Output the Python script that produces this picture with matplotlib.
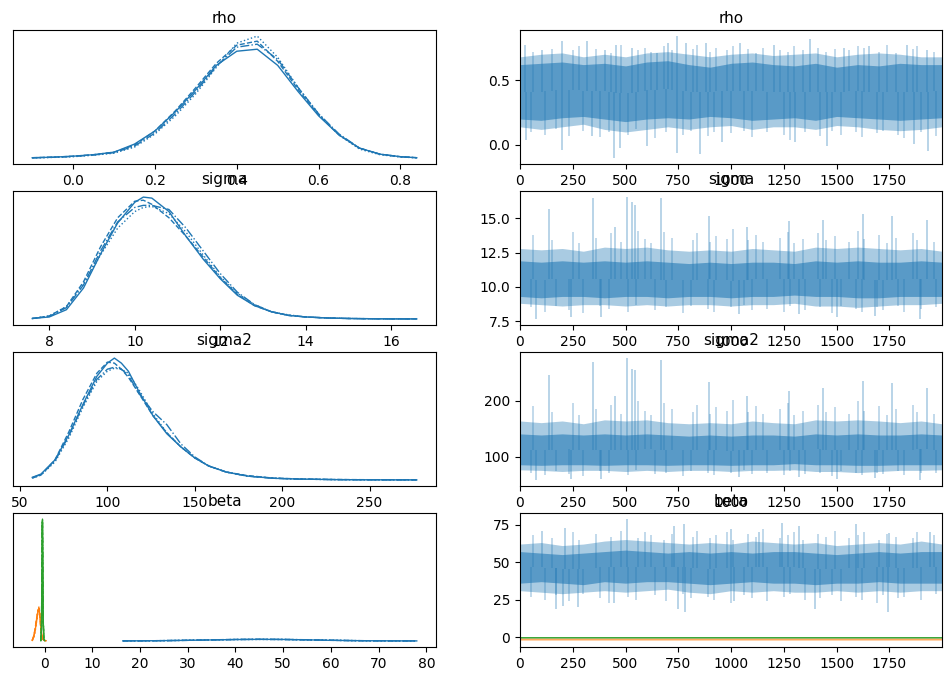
import matplotlib
matplotlib.use("Agg")
import matplotlib.pyplot as plt
import numpy as np

# ---------------- data ----------------
var_names = ["rho", "sigma", "sigma2", "beta"]
chain_styles = ["-", "--", ":", "-."]

# KDE curves (density in arbitrary units, 4 chains each)
rho_x = [-0.10, -0.05, 0.00, 0.05, 0.10, 0.15, 0.20, 0.25, 0.30, 0.35, 0.40, 0.45,
         0.50, 0.55, 0.60, 0.65, 0.70, 0.75, 0.80, 0.84]
rho_kde = [
    [0.5, 1, 2, 3.5, 6, 14, 27, 46, 68, 92, 106, 108, 92, 66, 42, 23, 10, 4, 1.5, 0.5],
    [0.5, 1, 2, 3.5, 6, 13, 27, 47, 70, 94, 112, 116, 96, 68, 43, 23, 10, 4, 1.5, 0.5],
    [0.3, 0.8, 1.5, 3, 5, 11, 24, 42, 64, 90, 114, 121, 100, 70, 44, 23, 9, 3.5, 1.2, 0.4],
    [0.4, 0.9, 1.8, 3.2, 5.5, 12, 25, 44, 66, 91, 110, 113, 98, 70, 44, 24, 10, 4, 1.4, 0.5],
]
sigma_x = [7.6, 8.0, 8.4, 8.8, 9.2, 9.6, 10.0, 10.2, 10.4, 10.8, 11.2, 11.6, 12.0, 12.4,
           12.8, 13.2, 13.6, 14.0, 14.5, 15.0, 15.5, 16.0, 16.6]
sigma_kde = [
    [0.5, 2, 9, 30, 63, 93, 113, 118, 117, 104, 80, 58, 39, 23, 13, 7, 3.5, 2, 1, 0.5, 0.3, 0.1, 0.1],
    [0.5, 3, 12, 36, 70, 98, 114, 115, 111, 98, 80, 60, 40, 24, 13, 7, 3.5, 2, 1, 0.5, 0.3, 0.2, 0.1],
    [0.5, 3, 12, 34, 62, 88, 104, 108, 109, 102, 84, 62, 41, 25, 14, 7, 4, 2, 1, 0.6, 0.3, 0.2, 0.1],
    [0.5, 2.5, 11, 33, 66, 94, 108, 110, 110, 106, 88, 66, 44, 26, 14, 7, 3.5, 2, 1, 0.5, 0.2, 0.1, 0.1],
]
sigma2_x = [57, 62, 70, 78, 86, 94, 100, 104, 108, 112, 118, 126, 134, 142, 150, 158, 168,
            180, 195, 210, 230, 250, 277]
sigma2_kde = [
    [2.7, 6, 20, 45, 75, 103, 116, 121, 116, 108, 88, 64, 46, 33, 22, 14, 8, 4, 1.8, 1, 0.5, 0.3, 0.2],
    [2, 5, 20, 48, 80, 106, 117, 116, 110, 102, 86, 64, 47, 33, 22, 14, 8, 4.5, 2, 1.2, 0.6, 0.4, 0.3],
    [2, 5, 18, 42, 72, 98, 108, 111, 110, 106, 90, 66, 47, 33, 22, 14, 8, 4, 2, 1, 0.5, 0.3, 0.2],
    [2.5, 5.5, 19, 44, 74, 100, 110, 112, 110, 104, 86, 68, 55, 36, 23, 14, 8, 4, 1.8, 1, 0.5, 0.3, 0.2],
]
beta0_x = [16.4, 20, 25, 30, 35, 40, 45, 50, 55, 60, 65, 70, 75, 78]
beta0_kde = [
    [0.05, 0.1, 0.3, 0.6, 1.0, 1.4, 1.6, 1.5, 1.1, 0.6, 0.3, 0.12, 0.04, 0.02],
    [0.05, 0.1, 0.3, 0.6, 1.1, 1.5, 1.6, 1.4, 1.0, 0.6, 0.3, 0.12, 0.04, 0.02],
    [0.05, 0.1, 0.3, 0.7, 1.1, 1.4, 1.5, 1.5, 1.1, 0.7, 0.3, 0.12, 0.04, 0.02],
    [0.05, 0.1, 0.3, 0.6, 1.0, 1.4, 1.6, 1.5, 1.2, 0.7, 0.3, 0.12, 0.04, 0.02],
]
beta1_x = [-2.6, -2.3, -2.0, -1.7, -1.4, -1.2, -1.0, -0.8, -0.6, -0.4, -0.2, 0.0, 0.3]
beta1_kde = [
    [0.5, 4, 10, 20, 30, 33, 26, 14, 6, 2, 1, 0.5, 0.2],
    [0.6, 5, 12, 22, 31, 32, 24, 12, 5, 2, 1, 0.4, 0.1],
    [0.3, 3, 9, 19, 29, 34, 27, 15, 6, 2.5, 1, 0.5, 0.2],
    [0.5, 4, 11, 21, 30, 31, 25, 14, 6, 2, 1, 0.5, 0.2],
]
beta2_x = [-0.8, -0.65, -0.55, -0.5, -0.45, -0.4, -0.3, -0.15, 0.0]
beta2_kde = [
    [0.2, 15, 80, 118, 121, 90, 20, 2, 0.2],
    [0.2, 18, 85, 116, 118, 86, 18, 2, 0.2],
    [0.2, 14, 78, 120, 122, 92, 22, 2, 0.2],
    [0.2, 16, 82, 117, 119, 88, 19, 2, 0.2],
]

# Trace summaries, read every 100 draws
iters = [0, 100, 200, 300, 400, 500, 600, 700, 800, 900, 1000, 1100, 1200, 1300,
         1400, 1500, 1600, 1700, 1800, 1900, 1999]
# draws where smaller excursions beyond the dense band are visible
tex_up_it = [60, 150, 250, 280, 360, 430, 480, 560, 590, 620, 680, 720, 820, 840, 900, 930, 980,
             1010, 1080, 1120, 1150, 1230, 1270, 1300, 1340, 1410, 1450, 1490, 1560, 1600, 1630,
             1700, 1740, 1780, 1860, 1880, 1960]
tex_dn_it = [50, 120, 170, 230, 300, 380, 420, 510, 550, 640, 690, 770, 810, 890, 920, 1000,
             1060, 1100, 1170, 1250, 1280, 1350, 1420, 1480, 1520, 1590, 1620, 1690, 1720, 1790,
             1820, 1900, 1970]

rho_core_hi = [0.62, 0.63, 0.64, 0.62, 0.63, 0.61, 0.64, 0.65, 0.62, 0.60, 0.63, 0.64, 0.62, 0.61, 0.63, 0.60, 0.62, 0.61, 0.63, 0.62, 0.62]
rho_core_lo = [0.20, 0.19, 0.21, 0.22, 0.20, 0.18, 0.20, 0.21, 0.20, 0.22, 0.21, 0.19, 0.20, 0.21, 0.19, 0.22, 0.21, 0.20, 0.19, 0.20, 0.21]
rho_outer_hi = [0.68, 0.70, 0.71, 0.68, 0.70, 0.68, 0.71, 0.72, 0.70, 0.68, 0.70, 0.71, 0.69, 0.70, 0.71, 0.68, 0.70, 0.71, 0.70, 0.68, 0.68]
rho_outer_lo = [0.14, 0.12, 0.14, 0.16, 0.12, 0.10, 0.12, 0.14, 0.12, 0.14, 0.15, 0.12, 0.14, 0.14, 0.12, 0.15, 0.14, 0.12, 0.11, 0.12, 0.14]
rho_spike_it = [24, 106, 200, 319, 405, 453, 532, 650, 702, 745, 784, 879, 1044, 1202, 1375, 1533, 1651, 1832, 1927,
                27, 197, 342, 444, 476, 602, 745, 855, 957, 1304, 1454, 1864, 1935]
rho_spike_val = [0.77, 0.73, 0.80, 0.80, 0.73, 0.77, 0.75, 0.71, 0.79, 0.84, 0.79, 0.79, 0.79, 0.77, 0.82, 0.75, 0.76, 0.77, 0.73,
                 0.04, -0.04, 0.07, -0.10, -0.02, -0.01, -0.06, -0.07, 0.02, 0.02, -0.01, 0.01, -0.05]
rho_tex_up = [0.72, 0.74, 0.73, 0.76, 0.74, 0.71, 0.77, 0.73, 0.75, 0.72, 0.76, 0.73, 0.74, 0.77, 0.72,
              0.75, 0.73, 0.76, 0.74, 0.71, 0.75, 0.73, 0.72, 0.76, 0.73, 0.75, 0.72, 0.74, 0.73, 0.76,
              0.75, 0.72, 0.77, 0.71, 0.74, 0.76, 0.72]
rho_tex_dn = [0.10, 0.08, 0.12, 0.07, 0.11, 0.06, 0.10, 0.08, 0.12, 0.05, 0.10, 0.08, 0.11, 0.07,
              0.10, 0.09, 0.11, 0.06, 0.10, 0.08, 0.04, 0.10, 0.07, 0.11, 0.08, 0.10, 0.06, 0.09,
              0.11, 0.08, 0.05, 0.10, 0.07]

sigma_core_hi = [11.9, 11.8, 11.9, 11.8, 11.9, 11.8, 11.9, 11.8, 11.7, 11.8, 11.7, 11.8, 11.8, 11.7, 11.9, 11.8, 11.9, 11.8, 11.8, 11.9, 11.8]
sigma_core_lo = [9.3, 9.2, 9.3, 9.3, 9.2, 9.3, 9.3, 9.2, 9.3, 9.3, 9.2, 9.3, 9.3, 9.4, 9.3, 9.3, 9.2, 9.2, 9.3, 9.3, 9.3]
sigma_outer_hi = [12.8, 12.7, 12.8, 12.6, 12.9, 12.8, 12.9, 12.7, 12.6, 12.7, 12.6, 12.8, 12.7, 12.6, 12.9, 12.8, 12.9, 12.8, 12.7, 12.8, 12.6]
sigma_outer_lo = [8.8, 8.7, 8.6, 8.7, 8.7, 8.6, 8.7, 8.6, 8.7, 8.7, 8.6, 8.7, 8.7, 8.8, 8.6, 8.6, 8.5, 8.6, 8.7, 8.7, 8.8]
sigma_spike_it = [137, 345, 449, 508, 532, 543, 666, 894, 1075, 1276, 1435, 1624, 1761, 1927,
                  74, 240, 382, 1039, 1320, 1501, 1682, 1895]
sigma_spike_val = [15.7, 16.5, 14.4, 16.55, 16.2, 16.0, 16.5, 15.2, 14.4, 14.8, 14.9, 15.3, 15.2, 14.9,
                   7.66, 7.78, 7.78, 8.0, 8.0, 7.78, 7.85, 7.66]
sigma_tex_up = [13.8, 13.4, 14.0, 13.2, 13.6, 13.9, 13.3, 14.1, 13.5, 13.2, 14.0, 13.6, 13.4, 13.9,
                13.3, 13.7, 13.5, 14.2, 13.4, 13.8, 13.3, 13.6, 14.0, 13.2, 13.5, 13.9, 13.4, 13.7,
                13.3, 14.1, 13.5, 13.8, 13.2, 13.6, 13.9, 13.4, 13.3]
sigma_tex_dn = [8.5, 8.2, 8.6, 8.3, 8.1, 8.6, 8.4, 8.2, 8.7, 8.3, 8.5, 8.1, 8.6, 8.4, 8.2, 8.5, 8.7,
                8.3, 8.4, 8.2, 8.6, 8.3, 8.5, 8.1, 8.6, 8.4, 8.2, 8.5, 8.3, 8.6, 8.2, 8.4, 8.5]

sigma2_core_hi = [141, 139, 141, 139, 141, 139, 141, 139, 137, 139, 137, 139, 139, 137, 141, 139, 141, 139, 139, 141, 139]
sigma2_core_lo = [86, 85, 86, 86, 85, 86, 86, 85, 86, 86, 85, 86, 86, 88, 86, 86, 85, 85, 86, 86, 86]
sigma2_outer_hi = [164, 161, 164, 159, 166, 164, 166, 161, 159, 161, 159, 164, 161, 159, 166, 164, 166, 164, 161, 164, 159]
sigma2_outer_lo = [77, 76, 74, 76, 76, 74, 76, 74, 76, 76, 74, 76, 76, 77, 74, 74, 72, 74, 76, 76, 77]
sigma2_spike_it = [137, 345, 449, 508, 532, 543, 666, 894, 1075, 1276, 1435, 1624, 1761, 1927,
                   74, 240, 382, 1039, 1320, 1501, 1682, 1895]
sigma2_spike_val = [246, 269, 208, 276, 256, 254, 273, 234, 208, 218, 223, 236, 232, 222,
                    59, 61, 61, 64, 64, 61, 62, 59]
sigma2_tex_up = [190, 180, 196, 174, 185, 193, 177, 199, 182, 174, 196, 185, 180, 193, 177, 188,
                 182, 202, 180, 190, 177, 185, 196, 174, 182, 193, 180, 188, 177, 199, 182, 190,
                 174, 185, 193, 180, 177]
sigma2_tex_dn = [72, 67, 74, 69, 66, 74, 71, 67, 76, 69, 72, 66, 74, 71, 67, 72, 76, 69, 71, 67,
                 74, 69, 72, 66, 74, 71, 67, 72, 69, 74, 67, 71, 72]

beta0_core_hi = [57, 56, 55, 56, 57, 58, 57, 56, 57, 56, 57, 56, 57, 57, 56, 55, 56, 57, 56, 57, 57]
beta0_core_lo = [36, 37, 36, 35, 37, 36, 37, 37, 36, 35, 36, 37, 36, 36, 35, 36, 36, 37, 36, 36, 36]
beta0_outer_hi = [62, 63, 61, 62, 64, 65, 64, 63, 62, 63, 62, 64, 63, 62, 63, 61, 62, 63, 62, 64, 62]
beta0_outer_lo = [31, 30, 29, 30, 31, 30, 31, 32, 30, 29, 31, 30, 31, 30, 30, 31, 30, 31, 30, 31, 31]
beta0_spike_it = [106, 213, 508, 728, 779, 1000, 1131, 1241, 1320, 1593, 1746, 1943,
                  169, 206, 273, 445, 749, 781, 1012, 1399, 1745]
beta0_spike_val = [71, 72.6, 78.6, 74, 75.3, 72, 70, 76, 74, 75.3, 69.5, 70,
                   19, 21, 20, 23, 19, 17, 24, 19, 17]
beta0_tex_up = [68, 66, 70, 65, 69, 67, 71, 66, 70, 68, 65, 69, 67, 71, 66, 68, 70, 65, 69, 67,
                72, 66, 68, 70, 65, 69, 67, 71, 66, 68, 70, 65, 69, 67, 66, 70, 68]
beta0_tex_dn = [27, 25, 28, 24, 29, 26, 23, 27, 25, 28, 24, 29, 26, 27, 25, 23, 28, 26, 24, 27,
                29, 25, 26, 28, 24, 27, 25, 23, 28, 26, 27, 25, 29]
beta1_core_hi = [-1.0] * 21
beta1_core_lo = [-1.8] * 21
beta1_outer_hi = [-0.6] * 21
beta1_outer_lo = [-2.4] * 21
beta2_core_hi = [0.2] * 21
beta2_core_lo = [-0.7] * 21
beta2_outer_hi = [0.3] * 21
beta2_outer_lo = [-0.8] * 21

# ---------------- figure ----------------
W, H = 952, 680
fig = plt.figure(figsize=(W / 100, H / 100), dpi=100)

tops = [30, 191, 352, 513]
hgt = 134
left_x, left_w = 13, 423
right_x, right_w = 520, 422


def add_ax(xpx, wpx, top):
    return fig.add_axes([xpx / W, 1 - (top + hgt) / H, wpx / W, hgt / H])


C0, C1, C2 = "#1f77b4", "#ff7f0e", "#2ca02c"


def draw_kde(ax, x, chains, color):
    for ys, ls in zip(chains, chain_styles):
        ax.plot(x, ys, color=color, ls=ls, lw=1.0)


def draw_trace(ax, color, core_lo, core_hi, outer_lo, outer_hi, spikes=(), alphas=(0.38, 0.58)):
    mid_line = (np.array(core_lo) + np.array(core_hi)) / 2
    for sp_it, sp_val, a in spikes:
        mid = np.interp(sp_it, iters, mid_line)
        ax.vlines(sp_it, mid, sp_val, color=color, alpha=a, lw=1.1)
    ax.fill_between(iters, outer_lo, outer_hi, color=color, alpha=alphas[0], lw=0)
    ax.fill_between(iters, core_lo, core_hi, color=color, alpha=alphas[1], lw=0)


kde_data = [
    [(rho_x, rho_kde, C0)],
    [(sigma_x, sigma_kde, C0)],
    [(sigma2_x, sigma2_kde, C0)],
    [(beta0_x, beta0_kde, C0), (beta1_x, beta1_kde, C1), (beta2_x, beta2_kde, C2)],
]
trace_data = [
    [(C0, rho_core_lo, rho_core_hi, rho_outer_lo, rho_outer_hi,
      [(rho_spike_it, rho_spike_val, 0.4), (tex_up_it, rho_tex_up, 0.35), (tex_dn_it, rho_tex_dn, 0.35)])],
    [(C0, sigma_core_lo, sigma_core_hi, sigma_outer_lo, sigma_outer_hi,
      [(sigma_spike_it, sigma_spike_val, 0.4), (tex_up_it, sigma_tex_up, 0.35), (tex_dn_it, sigma_tex_dn, 0.35)])],
    [(C0, sigma2_core_lo, sigma2_core_hi, sigma2_outer_lo, sigma2_outer_hi,
      [(sigma2_spike_it, sigma2_spike_val, 0.4), (tex_up_it, sigma2_tex_up, 0.35), (tex_dn_it, sigma2_tex_dn, 0.35)])],
    [(C0, beta0_core_lo, beta0_core_hi, beta0_outer_lo, beta0_outer_hi,
      [(beta0_spike_it, beta0_spike_val, 0.4), (tex_up_it, beta0_tex_up, 0.35), (tex_dn_it, beta0_tex_dn, 0.35)]),
     (C1, beta1_core_lo, beta1_core_hi, beta1_outer_lo, beta1_outer_hi, (), (0.35, 0.5)),
     (C2, beta2_core_lo, beta2_core_hi, beta2_outer_lo, beta2_outer_hi, (), (0.5, 0.85))],
]
left_ticks = [[0.0, 0.2, 0.4, 0.6, 0.8], [8, 10, 12, 14, 16], [50, 100, 150, 200, 250],
              [0, 10, 20, 30, 40, 50, 60, 70, 80]]
right_yticks = [[0.0, 0.5], [7.5, 10.0, 12.5, 15.0], [100, 200], [0, 25, 50, 75]]
trace_xticks = [0, 250, 500, 750, 1000, 1250, 1500, 1750]

for i, name in enumerate(var_names):
    axl = add_ax(left_x, left_w, tops[i])
    for x, ch, col in kde_data[i]:
        draw_kde(axl, x, ch, col)
    axl.set_yticks([])
    axl.set_xticks(left_ticks[i])
    axl.set_title(name, fontsize=11, pad=5)
    axl.tick_params(labelsize=10)

    axr = add_ax(right_x, right_w, tops[i])
    for args in trace_data[i]:
        draw_trace(axr, *args)
    axr.set_xlim(0, 1999)
    axr.set_xticks(trace_xticks)
    axr.set_yticks(right_yticks[i])
    axr.set_title(name, fontsize=11, pad=5)
    axr.tick_params(labelsize=10)

fig.savefig("out.png", dpi=100)
